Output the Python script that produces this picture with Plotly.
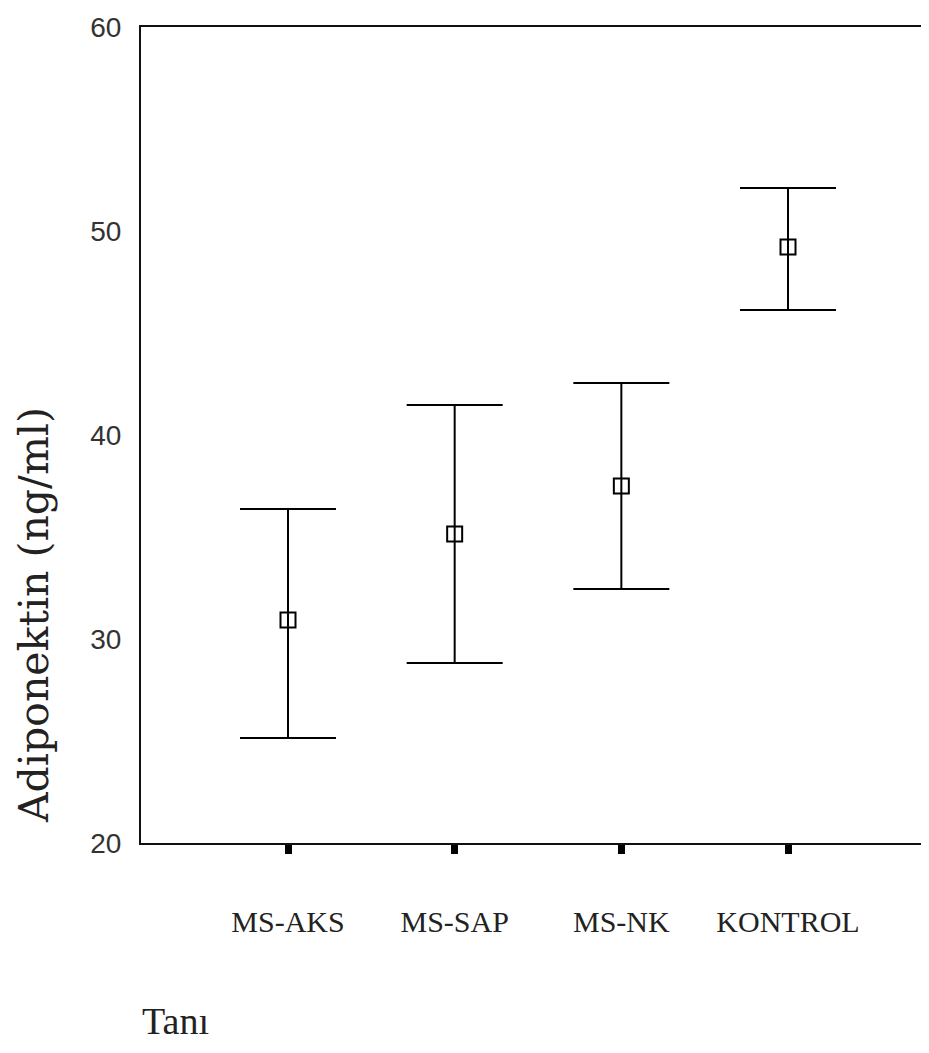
import plotly.graph_objects as go

categories = ["MS-AKS", "MS-SAP", "MS-NK", "KONTROL"]
positions = [1, 2, 3, 4]
mean_values = [30.93, 35.15, 37.50, 49.22]
upper_values = [36.37, 41.47, 42.55, 52.11]
lower_values = [25.15, 28.82, 32.45, 46.13]
y_ticks = [20, 30, 40, 50, 60]

err_plus = [u - m for u, m in zip(upper_values, mean_values)]
err_minus = [m - l for m, l in zip(mean_values, lower_values)]

fig = go.Figure()
fig.add_trace(go.Scatter(
    x=positions, y=mean_values, mode="markers",
    marker=dict(symbol="square-open", size=15, color="black", line=dict(width=2, color="black")),
    error_y=dict(type="data", symmetric=False, array=err_plus, arrayminus=err_minus,
                 color="black", thickness=2, width=48),
    showlegend=False, hoverinfo="skip",
))

# page body has an 8px offset; plot area target: left 141, top 27, bottom 843, right 929
W, H = 921, 1045
L, T, B = 133, 19, 1045 - 835
PW, PH = W - L, H - T - B

fig.update_layout(
    width=W, height=H,
    margin=dict(l=L, r=0, t=T, b=B),
    paper_bgcolor="white", plot_bgcolor="white",
    xaxis=dict(
        range=[0.118, 0.118 + PW / 166.67], tickvals=positions, ticktext=categories,
        showgrid=False, zeroline=False, showline=True, linecolor="#111", linewidth=2,
        mirror=True, ticks="outside", ticklen=9, tickwidth=7, tickcolor="black",
        ticklabelstandoff=42,
        tickfont=dict(family="Liberation Serif", size=30, color="#222"),
    ),
    yaxis=dict(
        range=[20, 60], tickvals=y_ticks, showgrid=False, zeroline=False,
        showline=True, linecolor="#111", linewidth=2, ticks="",
        ticklabelstandoff=12,
        tickfont=dict(family="Liberation Sans", size=28, color="#333"),
    ),
    annotations=[
        dict(text="Adiponektin (ng/ml)", textangle=-90, xref="paper", yref="paper",
             x=(26 - L) / PW, y=(835 - 607) / PH, xanchor="center", yanchor="middle",
             showarrow=False, font=dict(family="DejaVu Serif", size=41, color="#222")),
        dict(text="Tanı", xref="paper", yref="paper",
             x=(132 - L) / PW, y=(835 - 1013) / PH, xanchor="left", yanchor="middle",
             showarrow=False, font=dict(family="Liberation Serif", size=38, color="#222")),
    ],
)

fig.write_html("out.html")
